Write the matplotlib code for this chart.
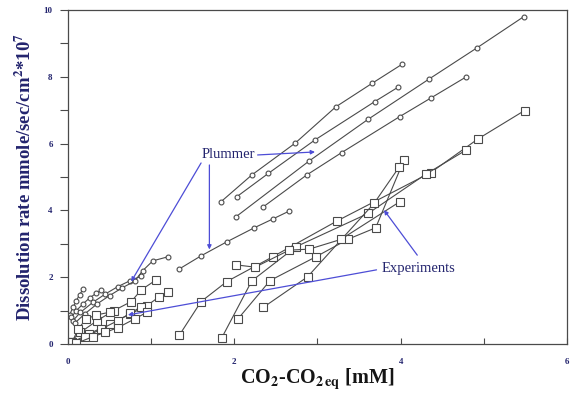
import matplotlib
matplotlib.use('Agg')
import matplotlib.pyplot as plt

plt.rcParams['font.family'] = ['Liberation Serif', 'DejaVu Serif']
plt.rcParams['mathtext.fontset'] = 'stix'
plt.rcParams['mathtext.default'] = 'bf'

# Plummer model curves (circles)
plummer = [
    ([1.84, 2.21, 2.73, 3.22, 3.66, 4.02], [4.26, 5.06, 6.01, 7.10, 7.81, 8.38]),
    ([2.03, 2.41, 2.97, 3.69, 3.97], [4.41, 5.11, 6.11, 7.26, 7.69]),
    ([2.02, 2.90, 3.61, 4.34, 4.92, 5.48], [3.81, 5.48, 6.73, 7.93, 8.87, 9.80]),
    ([2.35, 2.87, 3.29, 3.99, 4.36, 4.79], [4.11, 5.06, 5.73, 6.81, 7.36, 8.00]),
    ([1.34, 1.60, 1.91, 2.24, 2.46, 2.66], [2.25, 2.64, 3.06, 3.48, 3.74, 3.98]),
    ([0.02, 0.06, 0.10, 0.14, 0.18], [0.88, 1.10, 1.30, 1.48, 1.64]),
    ([0.04, 0.10, 0.18, 0.26, 0.34, 0.40], [0.80, 1.00, 1.20, 1.38, 1.52, 1.62]),
    ([0.06, 0.15, 0.30, 0.45, 0.60, 0.75, 0.88], [0.70, 0.95, 1.25, 1.50, 1.72, 1.90, 2.03]),
    ([0.08, 0.20, 0.35, 0.50, 0.65, 0.80, 0.90, 1.02, 1.20],
     [0.62, 0.90, 1.20, 1.45, 1.68, 1.88, 2.20, 2.49, 2.61]),
]

# experimental curves (squares)
experiments = [
    ([1.34, 1.60, 1.91, 2.46, 3.24, 4.36, 4.93, 5.49], [0.27, 1.27, 1.87, 2.61, 3.69, 5.13, 6.14, 6.99]),
    ([1.85, 2.21, 2.74, 3.61, 4.30, 4.79], [0.19, 1.89, 2.91, 3.91, 5.08, 5.81]),
    ([2.04, 2.43, 2.98, 3.37, 3.70, 4.04], [0.74, 1.90, 2.61, 3.14, 3.48, 5.51]),
    ([2.35, 2.88, 3.68, 3.98], [1.10, 2.01, 4.21, 5.29]),
    ([2.02, 2.25, 2.66, 2.90, 3.28, 3.99], [2.37, 2.30, 2.81, 2.84, 3.13, 4.26]),
    ([0.02, 0.15, 0.35, 0.55, 0.76, 0.88, 1.06], [0.05, 0.35, 0.70, 1.00, 1.27, 1.62, 1.92]),
    ([0.05, 0.25, 0.50, 0.75, 0.95, 1.10, 1.20], [0.05, 0.30, 0.60, 0.90, 1.15, 1.42, 1.57]),
    ([0.03, 0.20, 0.40, 0.60, 0.75, 0.88], [0.02, 0.20, 0.45, 0.70, 0.92, 1.12]),
    ([0.05, 0.12, 0.22, 0.34, 0.50], [0.05, 0.45, 0.75, 0.87, 0.95]),
    ([0.10, 0.30, 0.45, 0.60, 0.80, 0.95], [0.02, 0.22, 0.35, 0.49, 0.75, 0.95]),
]

# annotation text positions and arrows (start -> target)
plummer_label = (1.93, 5.66)
plummer_arrows = [((2.28, 5.66), (2.97, 5.75)),
                  ((1.60, 5.42), (0.76, 1.87)),
                  ((1.70, 5.36), (1.70, 2.83))]
exp_label = (4.22, 2.25)
exp_arrows = [((4.20, 2.66), (3.80, 4.01)),
              ((3.71, 2.22), (0.72, 0.87))]

navy = '#23246e'
blue = '#4d4dd6'
gray = '#4a4a4a'

fig = plt.figure(figsize=(5.75, 3.95), dpi=100)
ax = fig.add_axes([0.1183, 0.1291, 0.8677, 0.8456])

for xs, ys in plummer:
    ax.plot(xs, ys, color=gray, lw=0.8, marker='o', ms=3.5, mfc='white', mec=gray, mew=0.8)
for xs, ys in experiments:
    ax.plot(xs, ys, color=gray, lw=0.8, marker='s', ms=6, mfc='white', mec=gray, mew=0.8)

ax.text(*plummer_label, 'Plummer', color=navy, fontsize=10.5, ha='center', va='center')
for start, end in plummer_arrows:
    ax.annotate('', xy=end, xytext=start,
                arrowprops=dict(arrowstyle='-|>', color=blue, lw=0.9, mutation_scale=6,
                                shrinkA=0, shrinkB=0))
ax.text(*exp_label, 'Experiments', color=navy, fontsize=10.5, ha='center', va='center')
for start, end in exp_arrows:
    ax.annotate('', xy=end, xytext=start,
                arrowprops=dict(arrowstyle='-|>', color=blue, lw=0.9, mutation_scale=6,
                                shrinkA=0, shrinkB=0))

ax.set_xlim(0, 6)
ax.set_ylim(0, 10)
ax.set_xticks([0, 2, 4, 6])
ax.set_xticks([1, 3, 5], minor=True)
ax.set_yticks([0, 2, 4, 6, 8, 10])
ax.set_yticks([1, 3, 5, 7, 9], minor=True)
ax.tick_params(axis='x', which='both', direction='in', length=4, width=0.8, color=gray,
               labelsize=6.5, labelcolor=navy, pad=10)
ax.tick_params(axis='y', which='both', direction='out', length=6, width=0.8, color=gray,
               labelsize=6.5, labelcolor=navy, pad=5)
for lab in ax.get_xticklabels() + ax.get_yticklabels():
    lab.set_fontweight('bold')
for sp in ax.spines.values():
    sp.set_color(gray)
    sp.set_linewidth(0.9)

ax.set_xlabel(r'CO$_2$-CO$_{2\,eq}$ [mM]', fontsize=14.5, fontweight='bold', color='#151515', labelpad=1)
ax.set_ylabel(r'Dissolution rate mmole/sec/cm$^2$*10$^7$', fontsize=13.5, fontweight='bold',
              color=navy, labelpad=6)

fig.savefig('out.png', dpi=100)
